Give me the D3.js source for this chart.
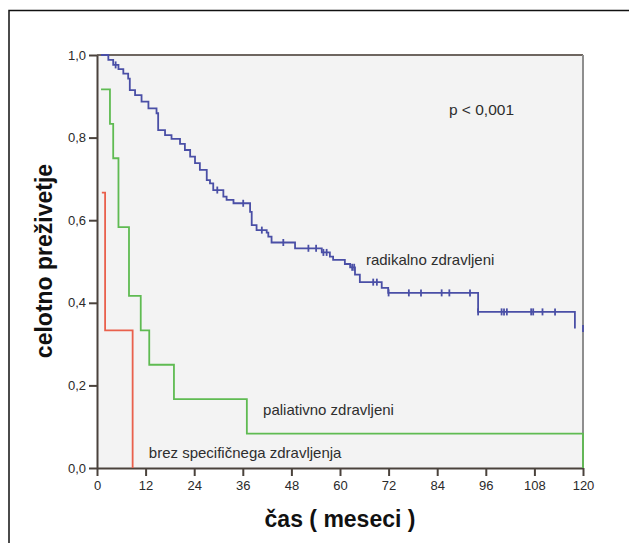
<!DOCTYPE html>
<html>
<head>
<meta charset="utf-8">
<script src="https://cdn.jsdelivr.net/npm/d3@7"></script>
<style>
  body { margin: 0; background: #fff; }
  text { font-family: Arial, "Liberation Sans", sans-serif; }
</style>
</head>
<body>
<div id="chart"></div>
<script>
// survival data (time in months, survival after the step)
var radTimes = [1.0, 2.8, 4.0, 5.3, 6.5, 7.7, 8.1, 9.4, 11.0, 12.7, 14.7, 15.1, 16.8, 18.4, 20.5, 21.7, 23.0, 24.2, 25.4,
                27.1, 27.9, 28.7, 31.2, 32.0, 33.7, 37.8, 38.2, 39.4, 41.9, 42.3, 43.1, 48.9, 55.5, 57.5, 58.3,
                61.2, 62.5, 63.7, 64.9, 70.3, 71.9, 94.1, 118.0];
var radSurv  = [1.0, 0.988, 0.976, 0.966, 0.955, 0.943, 0.915, 0.903, 0.887, 0.871, 0.859, 0.818, 0.806, 0.797, 0.785, 0.770, 0.754, 0.738, 0.722,
                0.697, 0.689, 0.673, 0.657, 0.649, 0.641, 0.620, 0.588, 0.576, 0.570, 0.560, 0.546, 0.532, 0.522, 0.512, 0.504,
                0.494, 0.486, 0.468, 0.450, 0.436, 0.424, 0.378, 0.338];
var radCensored = [4.6, 29.7, 36.1, 40.7, 46.0, 52.2, 54.1, 55.9, 56.7, 63.0, 63.5, 68.2, 69.1, 72.0, 77.0, 80.0,
                   85.1, 87.0, 92.1, 94.1, 99.9, 100.5, 101.2, 107.2, 107.7, 110.0, 113.1, 120.0];

var palTimes = [1.0, 3.2, 4.0, 5.3, 7.9, 10.8, 12.9, 19.0, 37.0, 120.0];
var palSurv  = [0.917, 0.833, 0.75, 0.583, 0.417, 0.333, 0.25, 0.167, 0.083, 0];

var brezTimes = [1.2, 2.0, 8.8];
var brezSurv  = [0.667, 0.333, 0];

var xTicks = [0, 12, 24, 36, 48, 60, 72, 84, 96, 108, 120];
var yTicks = [0, 0.2, 0.4, 0.6, 0.8, 1.0];

var W = 629, H = 543;

var svg = d3.select('#chart').append('svg')
  .attr('width', W)
  .attr('height', H)

// outer frame (runs off the right and bottom edge)
svg.append('rect')
  .attr('x', 9).attr('y', 10.5)
  .attr('width', 700).attr('height', 600)
  .attr('fill', 'none')
  .attr('stroke', '#111')
  .attr('stroke-width', 1.5)

var x = d3.scaleLinear().domain([0, 120]).range([97, 583]);
var y = d3.scaleLinear().domain([0, 1]).range([468, 55]);

// plot background
svg.append('rect')
  .attr('x', x(0)).attr('y', y(1))
  .attr('width', x(120) - x(0)).attr('height', y(0) - y(1))
  .attr('fill', '#f3f3f3')

// top + right frame lines
svg.append('line')
  .attr('x1', x(0)).attr('x2', x(120)).attr('y1', y(1)).attr('y2', y(1))
  .attr('stroke', '#6e6660').attr('stroke-width', 2)
svg.append('line')
  .attr('x1', x(120)).attr('x2', x(120)).attr('y1', y(1)).attr('y2', y(0))
  .attr('stroke', '#8e8e8e').attr('stroke-width', 2)

var fmt = function(d) { return d3.format('.1f')(d).replace('.', ','); };

var xAxis = svg.append('g')
  .attr('transform', 'translate(0,' + y(0) + ')')
  .call(d3.axisBottom(x).tickValues(xTicks).tickSize(8).tickPadding(5).tickSizeOuter(0))
var yAxis = svg.append('g')
  .attr('transform', 'translate(' + x(0) + ',0)')
  .call(d3.axisLeft(y).tickValues(yTicks).tickFormat(fmt).tickSize(8).tickPadding(3).tickSizeOuter(0))

;[xAxis, yAxis].forEach(function(g) {
  g.select('.domain').attr('stroke', '#4a423c').attr('stroke-width', 2)
  g.selectAll('.tick line').attr('stroke', '#4a423c').attr('stroke-width', 2)
  g.selectAll('.tick text')
    .attr('fill', '#2a2a2a')
    .attr('font-size', 13)
    .attr('font-family', 'Arial, "Liberation Sans", sans-serif')
})

// step curves
var line = d3.line()
  .x(function(d) { return x(d[0]); })
  .y(function(d) { return y(d[1]); })
  .curve(d3.curveStepAfter)

var curves = [
  { times: brezTimes, surv: brezSurv, color: '#e9604c' },
  { times: palTimes, surv: palSurv, color: '#5fbb52' },
  { times: radTimes, surv: radSurv, color: '#4a4fa6' }
];

svg.selectAll('path.km').data(curves)
  .enter()
  .append('path')
  .attr('class', 'km')
  .attr('d', function(c) { return line(d3.zip(c.times, c.surv)); })
  .attr('fill', 'none')
  .attr('stroke', function(c) { return c.color; })
  .attr('stroke-width', 1.8)

// censor marks on the radical curve
function survAt(t) {
  var s = radSurv[0];
  for (var i = 0; i < radTimes.length; i++) {
    if (radTimes[i] <= t) s = radSurv[i];
  }
  return s;
}

svg.selectAll('line.cens').data(radCensored)
  .enter()
  .append('line')
  .attr('class', 'cens')
  .attr('x1', function(d) { return x(d); })
  .attr('x2', function(d) { return x(d); })
  .attr('y1', function(d) { return y(survAt(d)) - 3.5; })
  .attr('y2', function(d) { return y(survAt(d)) + 3.5; })
  .attr('stroke', '#4a4fa6')
  .attr('stroke-width', 1.8)

// annotations
var notes = [
  { t: 86.9, s: 0.855, text: 'p < 0,001', size: 15.5 },
  { t: 66.4, s: 0.4915, text: 'radikalno zdravljeni', size: 15 },
  { t: 41.0, s: 0.128, text: 'paliativno zdravljeni', size: 15 },
  { t: 12.8, s: 0.024, text: 'brez specifičnega zdravljenja', size: 15 }
];

svg.selectAll('text.note').data(notes)
  .enter()
  .append('text')
  .attr('class', 'note')
  .attr('x', function(d) { return x(d.t); })
  .attr('y', function(d) { return y(d.s); })
  .attr('font-size', function(d) { return d.size; })
  .attr('fill', '#2e2e2e')
  .text(function(d) { return d.text; })

// axis titles
svg.append('text')
  .attr('x', 340).attr('y', 527)
  .attr('text-anchor', 'middle')
  .attr('font-size', 23)
  .attr('font-weight', 'bold')
  .attr('fill', '#111')
  .text('čas ( meseci )')

svg.append('text')
  .attr('transform', 'translate(52,261) rotate(-90)')
  .attr('text-anchor', 'middle')
  .attr('font-size', 23)
  .attr('font-weight', 'bold')
  .attr('fill', '#111')
  .text('celotno preživetje')
</script>
</body>
</html>
